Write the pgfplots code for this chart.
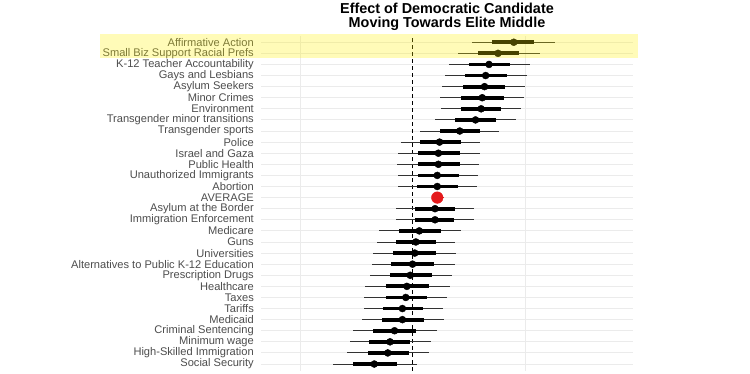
\documentclass[border=0pt]{standalone}
\usepackage{fontspec}
\setmainfont{Liberation Sans}
\usepackage{pgfplots}
\usepackage{pgfplotstable}
\pgfplotsset{compat=1.18}
\definecolor{gridgrey}{RGB}{235,235,235}
\definecolor{labgrey}{RGB}{77,77,77}
\definecolor{avgred}{RGB}{228,26,28}
\pgfplotstableread{
y est tlo thi olo ohi
29 0.090 0.071 0.108 0.053 0.127
28 0.076 0.058 0.095 0.040 0.113
27 0.068 0.050 0.087 0.032 0.104
26 0.065 0.047 0.084 0.029 0.102
25 0.064 0.045 0.082 0.026 0.100
24 0.062 0.043 0.081 0.024 0.099
23 0.061 0.043 0.079 0.025 0.096
22 0.056 0.038 0.074 0.020 0.092
21 0.042 0.024 0.060 0.007 0.077
20 0.024 0.007 0.043 -0.010 0.060
19 0.023 0.005 0.042 -0.013 0.060
18 0.023 0.005 0.042 -0.014 0.059
17 0.022 0.005 0.041 -0.013 0.058
16 0.022 0.004 0.040 -0.013 0.057
14 0.020 0.002 0.038 -0.015 0.055
13 0.020 0.002 0.037 -0.015 0.055
12 0.006 -0.012 0.025 -0.030 0.043
11 0.003 -0.015 0.021 -0.032 0.038
10 0.002 -0.017 0.021 -0.035 0.039
9 0.000 -0.019 0.019 -0.036 0.038
8 -0.002 -0.020 0.017 -0.038 0.035
7 -0.005 -0.024 0.015 -0.042 0.033
6 -0.006 -0.024 0.013 -0.043 0.031
5 -0.009 -0.026 0.009 -0.043 0.027
4 -0.009 -0.027 0.010 -0.045 0.028
3 -0.016 -0.035 0.003 -0.053 0.022
2 -0.020 -0.039 -0.002 -0.056 0.016
1 -0.022 -0.040 -0.003 -0.058 0.015
0 -0.034 -0.053 -0.014 -0.071 0.004
}\issues
\pgfplotstableread{
y est lo hi
15 0.022 0.017 0.028
}\average
\begin{document}
\begin{tikzpicture}
\useasboundingbox (0,0) rectangle (750pt,374pt);
\clip (0,0) rectangle (750pt,374pt);
\fill[white] (0,0) rectangle (750pt,374pt);
\begin{axis}[
  at={(261pt,3.3pt)}, anchor=south west,
  scale only axis, width=372pt, height=335.1pt,
  xmin=-0.1347, xmax=0.196, ymin=-0.6, ymax=29.6,
  axis line style={draw=none},
  xtick={-0.1,0.1}, xticklabels={},
  extra x ticks={0}, extra x tick labels={},
  extra x tick style={grid style={black, line width=0.9pt, dash pattern=on 3.5pt off 3.5pt}},
  ytick={0,...,29},
  yticklabels={Social Security,High{-}Skilled Immigration,Minimum wage,Criminal Sentencing,Medicaid,Tariffs,Taxes,Healthcare,Prescription Drugs,Alternatives to Public K{-}12 Education,Universities,Guns,Medicare,Immigration Enforcement,Asylum at the Border,AVERAGE,Abortion,Unauthorized Immigrants,Public Health,Israel and Gaza,Police,Transgender sports,Transgender minor transitions,Environment,Minor Crimes,Asylum Seekers,Gays and Lesbians,K{-}12 Teacher Accountability,Small Biz Support Racial Prefs,Affirmative Action},
  yticklabel style={font=\fontsize{11.1}{12}\selectfont, text=labgrey, inner sep=0pt, xshift=-7pt},
  major tick length=0pt,
  xmajorgrids, ymajorgrids,
  grid style={gridgrey, line width=0.9pt},
  clip=false,
]
\addplot[draw=none, mark=none, forget plot,
  error bars/.cd, x dir=both, x explicit, error mark=none,
  error bar style={black!80, line width=0.9pt}]
  table[x=est, y=y, x error plus expr={\thisrow{ohi}-\thisrow{est}}, x error minus expr={\thisrow{est}-\thisrow{olo}}] {\issues};
\addplot[draw=none, mark=none, forget plot,
  error bars/.cd, x dir=both, x explicit, error mark=none,
  error bar style={black, line width=3.8pt}]
  table[x=est, y=y, x error plus expr={\thisrow{thi}-\thisrow{est}}, x error minus expr={\thisrow{est}-\thisrow{tlo}}] {\issues};
\addplot[only marks, mark=*, mark size=3.5pt, mark options={fill=black, draw=black}]
  table[x=est, y=y] {\issues};
\addplot[only marks, mark=*, mark size=5.8pt, mark options={fill=avgred, draw=avgred},
  error bars/.cd, x dir=both, x explicit, error mark=none,
  error bar style={avgred, line width=0.9pt}]
  table[x=est, y=y, x error plus expr={\thisrow{hi}-\thisrow{est}}, x error minus expr={\thisrow{est}-\thisrow{lo}}] {\average};
\end{axis}
\fill[yellow, fill opacity=0.28] (100pt,315.7pt) rectangle (638pt,339.7pt);
\node[align=center, font=\bfseries\fontsize{14.4}{14.6}\selectfont, text=black] at (447pt,357pt) {Effect of Democratic Candidate\\Moving Towards Elite Middle};
\end{tikzpicture}
\end{document}
